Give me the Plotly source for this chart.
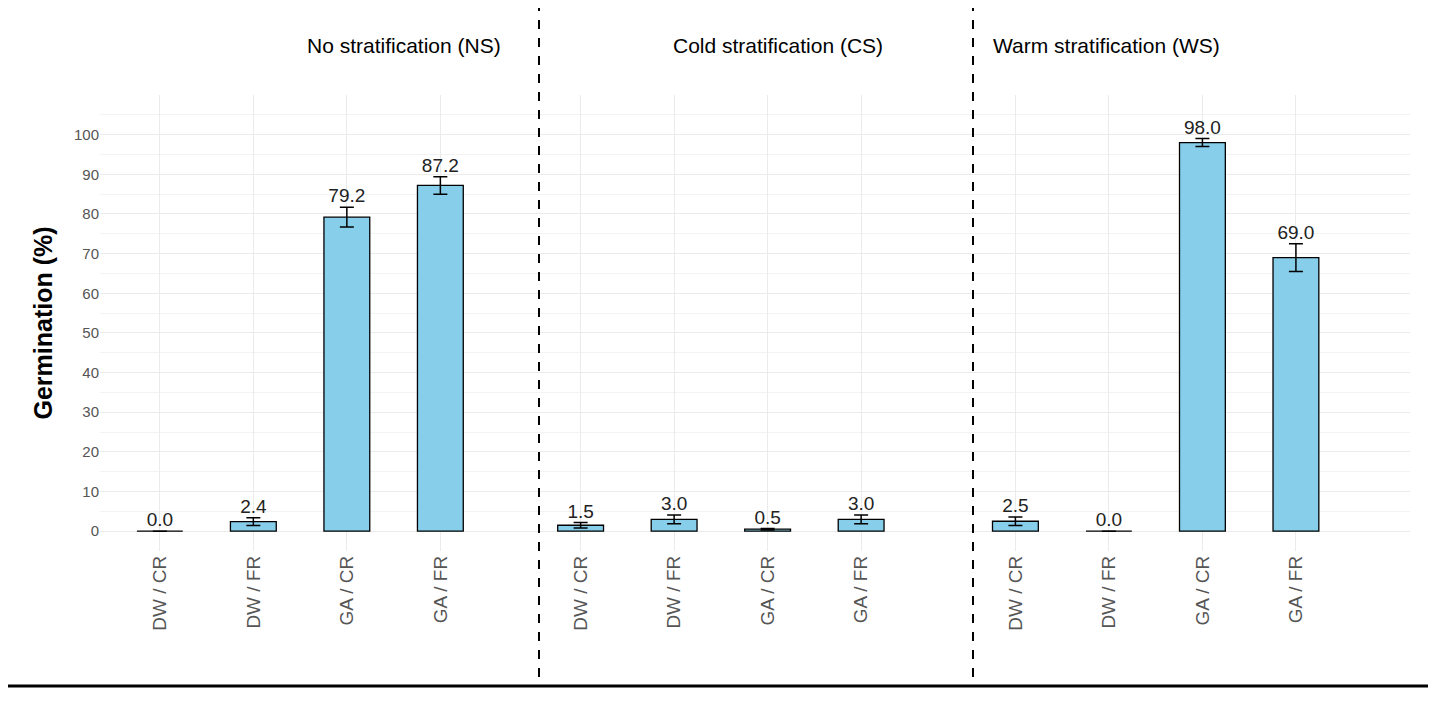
import plotly.graph_objects as go

treatments = ["DW / CR", "DW / FR", "GA / CR", "GA / FR"] * 3
groups = ["No stratification (NS)", "Cold stratification (CS)", "Warm stratification (WS)"]
germination = [0.0, 2.4, 79.2, 87.2, 1.5, 3.0, 0.5, 3.0, 2.5, 0.0, 98.0, 69.0]
err = [0.0, 1.0, 2.5, 2.2, 0.7, 1.1, 0.2, 1.1, 1.1, 0.0, 1.0, 3.5]
# x slot of each bar (three panels side by side)
xpos = [0, 1, 2, 3, 4.5, 5.5, 6.5, 7.5, 9.15, 10.15, 11.15, 12.15]

fig = go.Figure()
fig.add_bar(
    x=xpos, y=germination, width=0.49,
    marker=dict(color="#87CEEB", line=dict(color="black", width=1.3)),
    error_y=dict(type="data", array=err, color="black", thickness=1.5, width=7),
    showlegend=False,
)
fig.add_scatter(
    x=xpos, y=[g + e for g, e in zip(germination, err)],
    mode="text", text=[f"{g:.1f}" for g in germination],
    textposition="top center", textfont=dict(size=19, color="#222"),
    showlegend=False,
)

# page body has an 8px margin, so the figure is laid out in shifted pixels
OFF = 8
fig.update_layout(
    width=1420, height=702,
    margin=dict(l=100 - OFF, r=18, t=95 - OFF, b=159),
    paper_bgcolor="white", plot_bgcolor="white",
    font=dict(family="Liberation Sans, Arial", color="black"),
)
fig.update_xaxes(
    range=[-0.64, 13.37], tickmode="array", tickvals=xpos, ticktext=treatments,
    tickangle=-90, tickfont=dict(size=19, color="#555"), showgrid=True,
    gridcolor="#ebebeb", zeroline=False, ticks="",
)
fig.update_yaxes(
    range=[-5, 110], tickvals=list(range(0, 101, 10)),
    tickfont=dict(size=15, color="#555"), gridcolor="#ebebeb",
    minor=dict(dtick=5, showgrid=True, gridcolor="#f3f3f3"),
    zeroline=False,
    title=dict(text="<b>Germination (%)</b>", font=dict(size=25, color="black"), standoff=14),
)


def px(xp, yp):
    return (xp - 100) / 1310, (551 - yp) / 456


for name, cx in zip(groups, [305, 778, 1222]):
    ax, ay = px(cx, 32)
    fig.add_annotation(text=name, x=ax, y=ay, xref="paper", yref="paper",
                       showarrow=False, font=dict(size=21, color="black"))

x0, y0 = px(0, 2); x1, _ = px(1436, 2)
fig.add_shape(type="line", xref="paper", yref="paper", x0=x0, x1=x1, y0=y0, y1=y0,
              line=dict(color="black", width=3))
x0, y0 = px(5, 686); x1, _ = px(1430, 686)
fig.add_shape(type="line", xref="paper", yref="paper", x0=x0, x1=x1, y0=y0, y1=y0,
              line=dict(color="black", width=3))
for vx in [539, 973]:
    xa, ya = px(vx, 2); _, yb = px(vx, 686)
    fig.add_shape(type="line", xref="paper", yref="paper", x0=xa, x1=xa, y0=ya, y1=yb,
                  line=dict(color="black", width=2, dash="dash"))

fig.write_html("out.html")
